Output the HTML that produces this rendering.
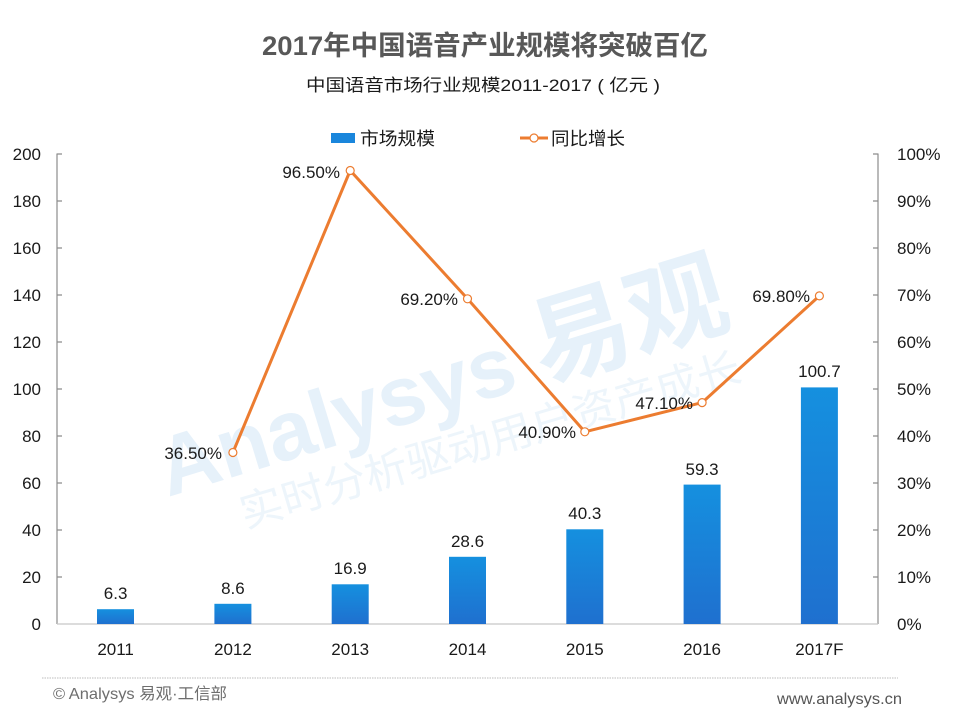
<!DOCTYPE html>
<html><head><meta charset="utf-8"><style>
html,body{margin:0;padding:0;background:#fff;}
svg{display:block;}
text{font-family:"Liberation Sans","Noto Sans CJK SC",sans-serif;}
</style></head><body>
<svg width="960" height="720" viewBox="0 0 960 720" xmlns="http://www.w3.org/2000/svg">
<defs>
<linearGradient id="bg" x1="0" y1="0" x2="0" y2="1">
<stop offset="0" stop-color="#1590df"/>
<stop offset="1" stop-color="#1f70cf"/>
</linearGradient>
</defs>
<rect width="960" height="720" fill="#fff"/>

<!-- watermark -->
<text transform="translate(168,497) rotate(-17)" font-size="84" font-weight="bold" fill="#e6f1fa">Analysys <tspan font-size="100">易观</tspan></text>
<text transform="translate(245,528) rotate(-16.5)" font-size="42" fill="#edf5fb" font-family="'Noto Serif CJK SC',serif" textLength="520" lengthAdjust="spacingAndGlyphs">实时分析驱动用户资产成长</text>

<!-- Title -->
<text x="485" y="55" text-anchor="middle" font-size="27" font-weight="bold" fill="#585858" textLength="446" lengthAdjust="spacingAndGlyphs">2017年中国语音产业规模将突破百亿</text>
<text x="483" y="91" text-anchor="middle" font-size="17" fill="#1a1a1a" textLength="354" lengthAdjust="spacingAndGlyphs">中国语音市场行业规模2011-2017 ( 亿元 )</text>

<!-- Legend -->
<rect x="331" y="133" width="24" height="10" fill="#1a86dc"/>
<text x="360" y="145" font-size="18" fill="#1a1a1a" textLength="75" lengthAdjust="spacingAndGlyphs">市场规模</text>
<line x1="520" y1="138" x2="548" y2="138" stroke="#ec7c30" stroke-width="3"/>
<circle cx="534" cy="138" r="4" fill="#fff" stroke="#ec7c30" stroke-width="1.2"/>
<text x="551" y="145" font-size="18" fill="#1a1a1a" textLength="74" lengthAdjust="spacingAndGlyphs">同比增长</text>

<!-- Axes -->
<g stroke="#8c8c8c" stroke-width="1.2" fill="none">
<line x1="57" y1="153.5" x2="57" y2="624"/>
<line x1="878" y1="153.5" x2="878" y2="624"/>
<path d="M57 154h5M57 201h5M57 248h5M57 295h5M57 342h5M57 389h5M57 436h5M57 483h5M57 530h5M57 577h5"/>
<path d="M878 154h-5M878 201h-5M878 248h-5M878 295h-5M878 342h-5M878 389h-5M878 436h-5M878 483h-5M878 530h-5M878 577h-5"/>
</g>
<line x1="57" y1="624" x2="878" y2="624" stroke="#c8c8c8" stroke-width="1.2"/>

<!-- Left labels -->
<g font-size="17" fill="#1a1a1a" text-anchor="end">
<text x="41" y="160">200</text>
<text x="41" y="207">180</text>
<text x="41" y="254">160</text>
<text x="41" y="301">140</text>
<text x="41" y="348">120</text>
<text x="41" y="395">100</text>
<text x="41" y="442">80</text>
<text x="41" y="489">60</text>
<text x="41" y="536">40</text>
<text x="41" y="583">20</text>
<text x="41" y="630">0</text>
</g>
<!-- Right labels -->
<g font-size="17" fill="#1a1a1a" text-anchor="start">
<text x="897" y="160">100%</text>
<text x="897" y="207">90%</text>
<text x="897" y="254">80%</text>
<text x="897" y="301">70%</text>
<text x="897" y="348">60%</text>
<text x="897" y="395">50%</text>
<text x="897" y="442">40%</text>
<text x="897" y="489">30%</text>
<text x="897" y="536">20%</text>
<text x="897" y="583">10%</text>
<text x="897" y="630">0%</text>
</g>

<!-- Bars -->
<g fill="url(#bg)">
<rect x="97" y="609.2" width="37" height="14.8"/>
<rect x="214.4" y="603.8" width="37" height="20.2"/>
<rect x="331.7" y="584.3" width="37" height="39.7"/>
<rect x="449" y="556.8" width="37" height="67.2"/>
<rect x="566.3" y="529.3" width="37" height="94.7"/>
<rect x="683.6" y="484.6" width="37" height="139.4"/>
<rect x="800.9" y="387.4" width="37" height="236.6"/>
</g>
<g font-size="17" fill="#1a1a1a" text-anchor="middle">
<text x="115.6" y="599">6.3</text>
<text x="232.9" y="594">8.6</text>
<text x="350.2" y="574">16.9</text>
<text x="467.5" y="547">28.6</text>
<text x="584.8" y="519">40.3</text>
<text x="702.1" y="475">59.3</text>
<text x="819.4" y="377">100.7</text>
</g>

<!-- X labels -->
<g font-size="17" fill="#1a1a1a" text-anchor="middle">
<text x="115.6" y="655">2011</text>
<text x="232.9" y="655">2012</text>
<text x="350.2" y="655">2013</text>
<text x="467.5" y="655">2014</text>
<text x="584.8" y="655">2015</text>
<text x="702.1" y="655">2016</text>
<text x="819.4" y="655">2017F</text>
</g>

<!-- Line -->
<polyline points="232.9,452.5 350.2,170.5 467.5,298.8 584.8,431.8 702.1,402.6 819.4,295.9" fill="none" stroke="#ec7c30" stroke-width="3" stroke-linejoin="round"/>
<g fill="#fff" stroke="#ec7c30" stroke-width="1.2">
<circle cx="232.9" cy="452.5" r="4"/>
<circle cx="350.2" cy="170.5" r="4"/>
<circle cx="467.5" cy="298.8" r="4"/>
<circle cx="584.8" cy="431.8" r="4"/>
<circle cx="702.1" cy="402.6" r="4"/>
<circle cx="819.4" cy="295.9" r="4"/>
</g>
<g font-size="17" fill="#1a1a1a" text-anchor="end">
<text x="222" y="459">36.50%</text>
<text x="340" y="178">96.50%</text>
<text x="458" y="305">69.20%</text>
<text x="576" y="438">40.90%</text>
<text x="693" y="409">47.10%</text>
<text x="810" y="302">69.80%</text>
</g>

<!-- Footer -->
<line x1="42" y1="678" x2="898" y2="678" stroke="#bdbdbd" stroke-width="1" stroke-dasharray="1.5 1"/>
<text x="53" y="699" font-size="16" fill="#6e6e6e" textLength="174" lengthAdjust="spacingAndGlyphs">© Analysys 易观·工信部</text>
<text x="902" y="704" font-size="16" fill="#555" text-anchor="end" textLength="125" lengthAdjust="spacingAndGlyphs">www.analysys.cn</text>
</svg>
</body></html>
